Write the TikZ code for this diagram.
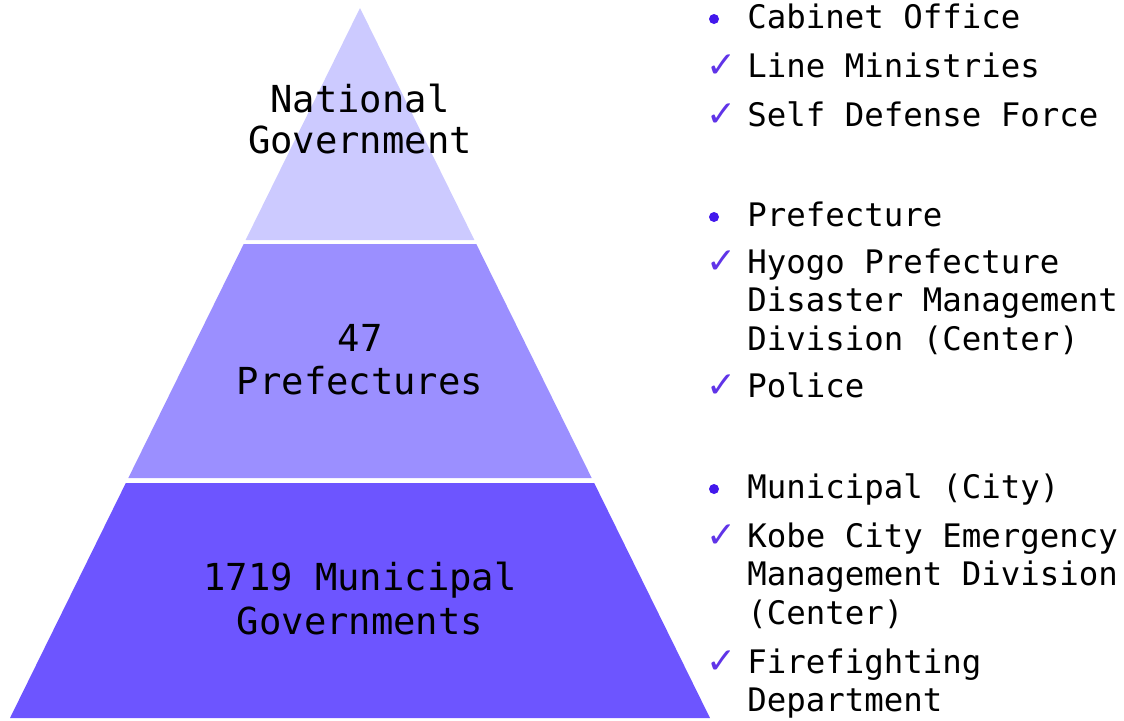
\documentclass[tikz,border=0pt]{standalone}
\usepackage{fontspec}
\setmonofont{DejaVu Sans Mono}
\newfontfamily\symfont{DejaVu Sans}
\definecolor{tierA}{RGB}{204,202,255}
\definecolor{tierB}{RGB}{155,143,255}
\definecolor{tierC}{RGB}{109,85,255}
\definecolor{dotcol}{RGB}{66,24,236}
\definecolor{checkcol}{RGB}{96,52,232}
\tikzset{
  tiertext/.style={font=\fontsize{18.6}{21.5}\selectfont\ttfamily, anchor=base, inner sep=0pt, text=black},
  itemtext/.style={font=\fontsize{16.2}{19.25}\selectfont\ttfamily, anchor=base west, inner sep=0pt, text=black},
  dotmark/.style={circle, fill=dotcol, inner sep=0pt, minimum size=5pt},
  checkmark/.style={font=\fontsize{18}{18}\selectfont\symfont, text=checkcol, anchor=base west, inner sep=0pt},
}
\begin{document}
\begin{tikzpicture}[x=0.5pt,y=-0.5pt]
\useasboundingbox (0,0) rectangle (1124,720);
% tiers
\fill[tierA] (360,8) -- (474.4,240) -- (245.6,240) -- cycle;
\fill[tierB] (243.7,244) -- (476.3,244) -- (591.7,478) -- (128.3,478) -- cycle;
\fill[tierC] (125.8,483) -- (594.2,483) -- (710,718) -- (10,718) -- cycle;
% tier labels
\node[tiertext] (n1) at (360,112) {National};
\node[tiertext] (n2) at (360,153) {Government};
\node[tiertext] (p1) at (360,351) {47};
\node[tiertext] (p2) at (360,394) {Prefectures};
\node[tiertext] (m1) at (360,590) {1719 Municipal};
\node[tiertext] (m2) at (360,634) {Governments};
% right list: national
\node[dotmark] (b1) at (714,19) {};
\node[itemtext] (t1) at (747,28) {Cabinet Office};
\node[checkmark] (c2) at (706,77) {✓};
\node[itemtext] (t2) at (747,77) {Line Ministries};
\node[checkmark] (c3) at (706,126) {✓};
\node[itemtext] (t3) at (747,126) {Self Defense Force};
% prefecture
\node[dotmark] (b4) at (714,217) {};
\node[itemtext] (t4) at (747,226) {Prefecture};
\node[checkmark] (c5) at (706,273) {✓};
\node[itemtext] (t5a) at (747,273) {Hyogo Prefecture};
\node[itemtext] (t5b) at (747,311.5) {Disaster Management};
\node[itemtext] (t5c) at (747,350) {Division (Center)};
\node[checkmark] (c6) at (706,397) {✓};
\node[itemtext] (t6) at (747,397) {Police};
% municipal
\node[dotmark] (b7) at (714,489) {};
\node[itemtext] (t7) at (747,498) {Municipal (City)};
\node[checkmark] (c8) at (706,547) {✓};
\node[itemtext] (t8a) at (747,547) {Kobe City Emergency};
\node[itemtext] (t8b) at (747,585.5) {Management Division};
\node[itemtext] (t8c) at (747,624) {(Center)};
\node[checkmark] (c9) at (706,673) {✓};
\node[itemtext] (t9a) at (747,673) {Firefighting};
\node[itemtext] (t9b) at (747,711.5) {Department};
\end{tikzpicture}
\end{document}
